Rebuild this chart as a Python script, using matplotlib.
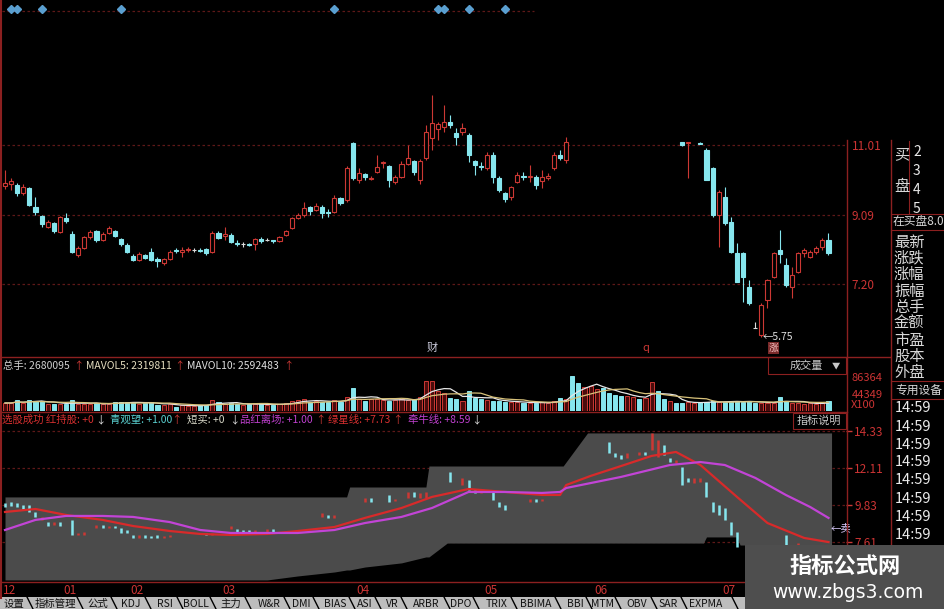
import numpy as np
import pandas as pd
import matplotlib
matplotlib.use('Agg')
import matplotlib.pyplot as plt
import matplotlib.transforms as mtransforms
from matplotlib.patches import Rectangle
from matplotlib.lines import Line2D

plt.rcParams['font.family'] = ['Noto Sans CJK SC', 'DejaVu Sans']

nan = np.nan

# ---- daily K-line (main panel), gap = candles not shown in the screenshot
opens = [9.89, 9.94, 9.91, 9.69, 9.83, 9.31, 9.06, 8.76, 8.87, 8.63,
         9.01, 8.57, 8.00, 8.19, 8.49, 8.65, 8.41, 8.60, 8.65, 8.43,
         8.27, 7.97, 7.86, 8.00, 8.08, 7.89, 7.78, 7.89, 8.13, 8.08,
         8.13, 8.13, 8.13, 8.16, 8.08, 8.60, 8.52, 8.54, 8.33, 8.30,
         8.30, 8.30, 8.43, 8.41, 8.40, 8.38, 8.54, 8.74, 9.01, 9.09,
         9.31, 9.23, 9.31, 9.17, 9.17, 9.56, 9.50, 11.06, 10.05, 10.22,
         10.08, 10.27, 10.52, 10.43, 10.00, 10.13, 10.49, 10.57, 10.05, 10.65,
         11.20, 11.45, 11.50, 11.64, 11.34, 11.37, 11.28, 10.57, 10.43, 10.38,
         10.74, 10.11, 9.69, 9.59, 10.00, 10.16, 10.13, 10.13, 10.02, 10.11,
         10.38, 10.74, 10.60, nan, nan, nan, nan, nan, nan, nan,
         nan, nan, nan, nan, nan, nan, nan, nan, nan, nan,
         nan, 11.09, 11.06, nan, 11.06, 10.87, 10.38, 9.09, 9.59, 8.90,
         8.05, 8.05, 7.12, 6.01, 5.80, 6.76, 7.39, 8.13, 7.72, 7.12,
         7.53, 8.05, 7.94, 8.08, 8.22, 8.41]
highs = [10.33, 10.11, 9.97, 9.94, 9.86, 9.59, 9.09, 8.96, 8.90, 9.06,
         9.15, 8.65, 8.24, 8.52, 8.68, 8.68, 8.63, 8.79, 8.68, 8.46,
         8.33, 8.02, 8.08, 8.02, 8.19, 7.94, 7.91, 8.13, 8.19, 8.22,
         8.22, 8.19, 8.19, 8.19, 8.65, 8.65, 8.76, 8.60, 8.41, 8.35,
         8.33, 8.46, 8.49, 8.46, 8.41, 8.52, 8.68, 9.04, 9.15, 9.45,
         9.34, 9.42, 9.37, 9.26, 9.64, 9.59, 10.43, 11.09, 10.38, 10.24,
         10.16, 10.74, 10.57, 10.46, 10.19, 10.57, 11.01, 10.60, 10.63, 11.56,
         12.38, 11.64, 12.11, 11.83, 11.48, 11.61, 11.34, 10.60, 10.54, 10.82,
         10.82, 10.16, 9.72, 9.89, 10.27, 10.27, 10.46, 10.19, 10.33, 10.24,
         10.82, 10.87, 11.23, nan, nan, nan, nan, nan, nan, nan,
         nan, nan, nan, nan, nan, nan, nan, nan, nan, nan,
         nan, 11.09, 11.09, nan, 11.09, 10.93, 10.41, 9.78, 9.86, 9.04,
         8.33, 8.08, 7.31, 6.16, 6.68, 7.34, 8.08, 8.68, 7.91, 7.67,
         8.08, 8.19, 8.13, 8.24, 8.46, 8.60]
lows = [9.80, 9.78, 9.61, 9.64, 9.34, 9.09, 8.76, 8.74, 8.60, 8.60,
        8.87, 8.05, 7.94, 8.16, 8.43, 8.35, 8.38, 8.57, 8.49, 8.24,
        8.05, 7.83, 7.83, 7.89, 7.83, 7.67, 7.72, 7.86, 8.05, 7.94,
        8.08, 8.08, 8.08, 8.00, 8.05, 8.43, 8.41, 8.33, 8.24, 8.22,
        8.24, 8.13, 8.33, 8.38, 8.33, 8.35, 8.52, 8.71, 8.98, 9.04,
        9.09, 9.20, 9.01, 9.04, 9.15, 9.37, 9.45, 10.05, 9.97, 10.05,
        10.05, 10.24, 10.38, 9.86, 9.94, 10.11, 10.46, 10.19, 9.94, 10.60,
        10.87, 11.15, 11.37, 11.48, 11.01, 11.28, 10.54, 10.19, 10.33, 10.33,
        9.97, 9.72, 9.45, 9.50, 9.97, 10.05, 10.00, 9.80, 9.83, 10.05,
        10.33, 10.60, 10.52, nan, nan, nan, nan, nan, nan, nan,
        nan, nan, nan, nan, nan, nan, nan, nan, nan, nan,
        nan, 10.98, 10.11, nan, 11.04, 10.05, 9.04, 8.22, 8.82, 8.05,
        7.26, 6.71, 6.63, 6.01, 5.75, 6.55, 7.37, 7.78, 7.12, 6.82,
        7.50, 7.94, 7.91, 8.02, 8.13, 8.00]
closes = [9.97, 10.02, 9.69, 9.86, 9.37, 9.17, 8.85, 8.90, 8.65, 9.04,
          8.93, 8.08, 8.19, 8.49, 8.63, 8.41, 8.57, 8.74, 8.52, 8.30,
          8.08, 7.86, 8.02, 7.91, 7.86, 7.83, 7.89, 8.08, 8.11, 8.13,
          8.16, 8.13, 8.11, 8.05, 8.60, 8.46, 8.57, 8.35, 8.30, 8.30,
          8.27, 8.43, 8.38, 8.41, 8.37, 8.49, 8.65, 9.01, 9.09, 9.28,
          9.20, 9.34, 9.15, 9.15, 9.56, 9.42, 10.38, 10.11, 10.24, 10.13,
          10.11, 10.41, 10.54, 10.05, 10.13, 10.49, 10.65, 10.27, 10.57, 11.37,
          11.61, 11.59, 11.64, 11.56, 11.23, 11.48, 10.74, 10.46, 10.41, 10.74,
          10.13, 9.78, 9.53, 9.86, 10.19, 10.13, 10.16, 9.91, 10.13, 10.16,
          10.74, 10.65, 11.09, nan, nan, nan, nan, nan, nan, nan,
          nan, nan, nan, nan, nan, nan, nan, nan, nan, nan,
          nan, 11.01, 11.09, nan, 11.04, 10.05, 9.09, 9.72, 8.87, 8.08,
          7.26, 7.39, 6.68, 6.01, 6.63, 7.31, 8.05, 8.02, 7.17, 7.45,
          8.05, 8.13, 8.08, 8.19, 8.41, 8.05]

# volume (x100 shares) and bar colour (r = up, c = down)
volumes = [20600, 20600, 28300, 20600, 28300, 25700, 25700, 18000, 18000, 18000,
           18000, 28300, 18000, 18000, 18000, 20600, 18000, 18000, 23100, 23100,
           23100, 23100, 18000, 20600, 23100, 15400, 15400, 18000, 10300, 15400,
           12900, 12900, 15400, 15400, 28300, 23100, 18000, 20600, 18000, 15400,
           18000, 18000, 18000, 15400, 15400, 18000, 20600, 25700, 28300, 30800,
           23100, 25700, 23100, 23100, 28300, 23100, 36000, 59100, 30800, 25700,
           30800, 30800, 28300, 25700, 28300, 30800, 28300, 30800, 36000, 77100,
           77100, 51400, 46300, 33400, 30800, 25700, 51400, 33400, 30800, 28300,
           25700, 25700, 23100, 23100, 23100, 20600, 20600, 20600, 23100, 20600,
           25700, 33400, 30800, 90000, 72000, 61700, 64300, 56500, 59100, 46300,
           41100, 38600, 38600, 36000, 30800, 33400, 74500, 51400, 30800, 25700,
           20600, 20600, 23100, 20600, 23100, 23100, 25700, 23100, 23100, 25700,
           25700, 23100, 25700, 20600, 20600, 20600, 20600, 36000, 25700, 20600,
           20600, 18000, 20600, 18000, 20600, 25700]
vol_colors = ("rrcrcccrcr" "ccrrrcrrcc" "ccrcccrrcr" "rrccrcrccr" "crcrcrrrrr"
              "crccrcrcrc" "rrrcrrrcrr" "rrrccrcccr" "cccrrcrcrr" "rcrccrrrcc"
              "ccrrcrrccr" "ccrrcccrcc" "ccccrrrccr" "rrrrrc")

signal_idx = [1, 2, 6, 19, 54, 71, 72, 76, 82]
price_ticks = [11.01, 9.09, 7.20]
vol_ticks = [44349, 86364]

# ---- lower indicator panel
low_ticks = [14.33, 12.11, 9.83, 7.61]
band_idx = [0, 43, 48, 54, 56, 56.5, 59, 65, 69, 69.5, 71, 72.5, 91.5, 95.5,
            114.5, 115, 120, 120.5, 135.5]
band_top = [10.34, 10.34, 10.34, 10.34, 10.34, 10.94, 10.94, 10.94, 10.94, 12.21,
            12.21, 12.21, 12.21, 14.21, 14.21, 14.21, 14.21, 14.21, 14.21]
band_bot = [5.32, 5.32, 5.56, 5.80, 5.92, 5.92, 6.10, 6.35, 6.71, 6.71,
            7.13, 7.55, 7.55, 7.55, 7.55, 7.92, 7.92, 7.43, 7.43]

red_idx = [0, 5, 10, 16, 21, 27, 32, 37, 43, 48, 54, 59, 65, 70, 76, 82, 88, 91,
           92, 96, 101, 106, 110, 114, 120, 125, 131, 135]
red_val = [9.43, 9.61, 9.25, 8.95, 8.58, 8.28, 8.10, 8.04, 8.10, 8.28, 8.52, 9.07,
           9.67, 10.34, 10.82, 10.64, 10.46, 10.46, 11.06, 11.61, 12.21, 12.82,
           13.06, 12.27, 10.34, 8.76, 7.86, 7.61]
mag_idx = [0, 5, 10, 16, 21, 27, 32, 37, 43, 48, 54, 59, 65, 70, 76, 82, 88, 91,
           92, 101, 109, 114, 118, 123, 128, 132, 135]
mag_val = [8.34, 8.95, 9.19, 9.19, 9.13, 8.82, 8.34, 8.16, 8.16, 8.16, 8.34, 8.76,
           9.13, 9.67, 10.64, 10.64, 10.58, 10.64, 10.88, 11.55, 12.27, 12.45,
           12.27, 11.49, 10.46, 9.73, 9.07]

lp_idx = [0, 1, 2, 3, 4, 5, 6, 7, 8, 9, 11, 12, 13, 15, 16, 17, 18, 19, 20, 21,
          22, 23, 24, 25, 26, 27, 33, 34, 37, 38, 39, 40, 41, 43, 44, 52, 53, 54,
          59, 60, 63, 64, 66, 67, 68, 69, 73, 75, 76, 77, 78, 80, 81, 82, 86, 87,
          88, 99, 100, 101, 102, 104, 105, 106, 107, 108, 109, 110, 111, 112, 113,
          114, 115, 116, 117, 118, 119, 120, 128, 130]
lp_hi = [9.97, 10.03, 9.97, 9.85, 9.85, 9.43, 9.13, 8.82, 8.82, 8.82, 8.95, 8.16,
         8.22, 8.64, 8.64, 8.58, 8.58, 8.46, 8.34, 8.04, 8.04, 8.04, 7.98, 8.04,
         7.98, 8.04, 8.16, 8.16, 8.58, 8.40, 8.34, 8.34, 8.34, 8.40, 8.40, 9.37,
         9.25, 9.25, 10.28, 10.28, 10.46, 10.22, 10.64, 10.64, 10.58, 10.64, 11.85,
         11.49, 11.37, 10.76, 10.76, 10.76, 10.03, 9.85, 10.22, 10.22, 10.22, 13.66,
         13.00, 12.88, 13.00, 13.06, 13.06, 14.21, 13.79, 13.48, 12.70, 12.58,
         12.15, 11.49, 11.49, 11.49, 11.24, 10.03, 9.85, 9.67, 8.82, 8.22, 8.04, 7.55]
lp_lo = [9.73, 9.79, 9.73, 9.61, 9.43, 9.13, 8.95, 8.58, 8.64, 8.58, 8.04, 8.04,
         8.04, 8.46, 8.46, 8.46, 8.46, 8.16, 8.16, 7.86, 7.86, 7.86, 7.86, 7.86,
         7.86, 7.92, 8.04, 8.04, 8.40, 8.22, 8.16, 8.16, 8.16, 8.16, 8.16, 9.13,
         9.07, 9.07, 10.03, 10.03, 10.03, 10.10, 10.28, 10.34, 10.28, 10.28, 11.24,
         11.06, 10.76, 10.58, 10.58, 10.16, 9.73, 9.55, 10.03, 10.03, 10.10, 13.00,
         12.76, 12.64, 12.70, 12.88, 12.88, 13.18, 12.76, 12.88, 12.45, 12.39,
         11.06, 11.24, 11.18, 11.24, 10.34, 9.43, 9.25, 8.95, 8.04, 7.31, 7.43, 7.31]
lp_colors = ("ccccccrcrc" "crr" "rcrccccrcccrr" "cr" "rcccr" "rc" "rcr" "rc" "cr"
             "rcrr" "c" "rccr" "ccc" "rcr" "cccr" "rcrrccrccrrcccccc" "cr")

month_idx = [0, 10, 21, 36, 58, 79, 97, 118]
month_labels = ['12', '01', '02', '03', '04', '05', '06', '07']

RED = '#cc3834'
CYAN = '#86e6ee'
GRID = '#5e1818'
BORDER = '#8c2020'
LABEL = '#cc3434'
W, H = 945, 609
XL = ((2 - 5) / 6.1, (846 - 5) / 6.1)

fig = plt.figure(figsize=(9.45, 6.09), dpi=100, facecolor='black')


def box(x0, y0, x1, y1):
    return [x0 / W, 1 - y1 / H, (x1 - x0) / W, (y1 - y0) / H]


def ftext(x, y, s, **kw):
    kw.setdefault('va', 'center')
    fig.text(x / W, 1 - y / H, s, **kw)


def fline(xs, ys, **kw):
    fig.add_artist(Line2D([x / W for x in xs], [1 - y / H for y in ys],
                          transform=fig.transFigure, **kw))


def frect(x0, y0, x1, y1, **kw):
    fig.add_artist(Rectangle((x0 / W, 1 - y1 / H), (x1 - x0) / W, (y1 - y0) / H,
                             transform=fig.transFigure, **kw))


def setup(a, ylim):
    a.set_facecolor('black')
    a.set_xlim(XL)
    a.set_ylim(ylim)
    for s in a.spines.values():
        s.set_visible(False)
    a.set_xticks([])
    a.yaxis.tick_right()


# ---------------- main K-line panel
ax = fig.add_axes(box(2, 0, 846, 356))
setup(ax, (5.23, 14.98))
ax.set_yticks(price_ticks)
ax.set_yticklabels([f'{v:.2f}' for v in price_ticks])
ax.tick_params(axis='y', length=0, pad=4, labelcolor=LABEL, labelsize=8.5)
for v in price_ticks:
    ax.axhline(v, color=GRID, lw=0.9, ls=(0, (2, 2)), zorder=0)
ax.axhline(14.68, xmax=0.63, color=GRID, lw=0.9, ls=(0, (2, 2)), zorder=0)

for i in range(len(opens)):
    o, h, l, c = opens[i], highs[i], lows[i], closes[i]
    if np.isnan(o):
        continue
    col = RED if c > o else (CYAN if c < o else '#dcdcdc')
    ax.vlines(i, l, h, color=col, lw=0.8, zorder=2)
    ax.add_patch(Rectangle((i - 0.33, min(o, c)), 0.66, abs(c - o),
                           facecolor='black' if c > o else col,
                           edgecolor=col, lw=0.8, zorder=3))

trans = mtransforms.blended_transform_factory(ax.transData, ax.transAxes)
ax.plot(signal_idx, [0.975] * len(signal_idx), 'D', color='#5a9fd0', ms=4.5,
        transform=trans, clip_on=False, zorder=4)
low_i = int(np.nanargmin(lows))
ax.annotate('←5.75', (low_i + 0.2, lows[low_i]), color='#e0e0e0', fontsize=7.5,
            va='center', ha='left')
ax.text(70, 0.022, '财', transform=trans, color='#c8c8d8', fontsize=8, ha='center', va='center')
ax.text(105, 0.022, 'q', transform=trans, color=RED, fontsize=8, ha='center', va='center')
ax.text(126, 0.022, '涨', transform=trans, color='#f4c0c0', fontsize=7, ha='center',
        va='center', bbox=dict(boxstyle='square,pad=0.1', fc='#7a2a2a', ec='none'))

# ---------------- volume panel
axv = fig.add_axes(box(2, 357, 846, 411))
setup(axv, (0, 54 * 2570))
idx = np.arange(len(volumes))
faces = ['#4a0c0c' if k == 'r' else CYAN for k in vol_colors]
edges = [RED if k == 'r' else CYAN for k in vol_colors]
axv.bar(idx, volumes, width=0.66, color=faces, edgecolor=edges, lw=0.7, zorder=2)
vs = pd.Series(volumes, dtype=float)
axv.plot(idx, vs.rolling(5, min_periods=1).mean(), color='#e6e6e6', lw=0.9, zorder=3)
axv.plot(idx, vs.rolling(10, min_periods=1).mean(), color='#d8c27a', lw=0.9, zorder=3)
axv.set_yticks(vol_ticks)
axv.set_yticklabels([str(v) for v in vol_ticks])
axv.tick_params(axis='y', length=0, pad=4, labelcolor=LABEL, labelsize=8)

# ---------------- lower indicator panel
axl = fig.add_axes(box(2, 425, 846, 581))
setup(axl, (5.255, 14.69))
for v in low_ticks:
    axl.axhline(v, color=GRID, lw=0.9, ls=(0, (2, 2)), zorder=0)
axl.fill_between(band_idx, band_bot, band_top, color='#4b4b4b', lw=0, zorder=1)
axl.vlines(lp_idx, lp_lo, lp_hi, colors=[RED if k == 'r' else CYAN for k in lp_colors],
           lw=1.8, zorder=3)
axl.plot(red_idx, red_val, color='#d82a2a', lw=1.6, zorder=4)
axl.plot(mag_idx, mag_val, color='#c244d6', lw=1.6, zorder=4)
axl.text(mag_idx[-1] + 0.3, 8.46, '←卖', color='#dcccff', fontsize=7.5, va='center')
axl.set_yticks(low_ticks)
axl.set_yticklabels([f'{v:.2f}' for v in low_ticks])
axl.tick_params(axis='y', length=4, width=1, color=RED, pad=2, labelcolor=LABEL, labelsize=8.5)
ltrans = mtransforms.blended_transform_factory(axl.transData, axl.transAxes)
for m, lab in zip(month_idx, month_labels):
    axl.text(m - 0.4, -0.058, lab, transform=ltrans, color=LABEL, fontsize=8.5,
             ha='left', va='center', clip_on=False)

# ---------------- frame lines
fline([0, 890], [356.5, 356.5], color=BORDER, lw=1)
fline([0, 847], [412, 412], color=BORDER, lw=1)
fline([0, 847], [582, 582], color=BORDER, lw=1)
fline([847, 847], [140, 598], color=BORDER, lw=1)
fline([891, 891], [140, 545], color=BORDER, lw=1)
fline([1.5, 1.5], [0, 598], color=BORDER, lw=1.5)
fline([909, 909], [141, 213], color=BORDER, lw=0.8)
fline([891, 945], [214, 214], color=BORDER, lw=0.8)
fline([891, 945], [230, 230], color=BORDER, lw=0.8)
frect(768, 357, 846, 374, fill=False, edgecolor=BORDER, lw=0.8)
frect(793, 413, 846, 429, fill=False, edgecolor=BORDER, lw=0.8)
frect(891, 381, 945, 399, fill=False, edgecolor=BORDER, lw=0.8)

# ---------------- texts
ftext(790, 366, '成交量', color='#c8c8c8', fontsize=8)
ftext(832, 366, '▼', color='#c8c8c8', fontsize=6)
ftext(797, 421, '指标说明', color='#c8c8c8', fontsize=8)
ftext(851, 405, 'X100', color=LABEL, fontsize=8)

for x, s, col in [(3, '总手: 2680095', '#d0d0d0'), (73, '↑', RED),
                  (86, 'MAVOL5: 2319811', '#e6dec0'), (174, '↑', RED),
                  (187, 'MAVOL10: 2592483', '#e0e0e0'), (283, '↑', RED)]:
    ftext(x, 366, s, color=col, fontsize=7.5)

for x, s, col in [(2, '选股成功 红持股: +0', '#d83030'), (95, '↓', '#e0e0e0'),
                  (110, '青观望: +1.00', '#5ad0d0'), (171, '↑', RED),
                  (187, '短买: +0', '#d8d8c8'), (229, '↓', '#e0e0e0'),
                  (240, '品红离场: +1.00', '#c040d0'), (315, '↑', RED),
                  (328, '绿星线: +7.73', '#d83030'), (392, '↑', RED),
                  (408, '牵牛线: +8.59', '#c040d0'), (471, '↓', '#e0e0e0')]:
    ftext(x, 420, s, color=col, fontsize=7.5)

# right-hand quote panel
ftext(894, 155, '买', color='#d8d8d8', fontsize=11)
ftext(894, 187, '盘', color='#d8d8d8', fontsize=11)
for y, s in zip([152, 171, 190, 209], ['2', '3', '4', '5']):
    ftext(913, y, s, color='#e8e8e8', fontsize=10)
ftext(893, 222, '在买盘8.0', color='#d8d8d8', fontsize=8.5)
for y, s in zip([242, 258, 274, 291, 307, 323, 340, 356, 372],
                ['最新', '涨跌', '涨幅', '振幅', '总手', '金额', '市盈', '股本', '外盘']):
    ftext(894, y, s, color='#d8d8d8', fontsize=11)
ftext(895, 390, '专用设备', color='#d8d8d8', fontsize=8.5)
for y in [408, 427, 445, 462, 480, 499, 517, 535]:
    ftext(895, y, '14:59', color='#ececec', fontsize=10.5)

# bottom tab bar
frect(0, 597, 745, 609, facecolor='#bdbdbd', edgecolor='none')
tabs = ['设置', '指标管理', '公式', 'KDJ', 'RSI', 'BOLL', '主力', 'W&R', 'DMI', 'BIAS',
        'ASI', 'VR', 'ARBR', 'DPO', 'TRIX', 'BBIMA', 'BBI', 'MTM', 'OBV', 'SAR', 'EXPMA']
tab_x = [14, 55, 98, 131, 165, 196, 231, 269, 301, 335, 365, 392, 426, 461, 497, 536,
         575, 603, 637, 668, 706]
for x, s in zip(tab_x, tabs):
    ftext(x, 599, s, color='#111111', fontsize=7.5, ha='center', va='top')
for x in [30, 80, 114, 148, 180, 213, 248, 287, 316, 352, 378, 404, 447, 476, 514,
          558, 589, 618, 654, 684, 735]:
    fline([x - 3, x + 3], [597, 609], color='black', lw=1)

# watermark
frect(745, 545, 945, 609, facecolor='#4e4e4e', edgecolor='none', zorder=10)
fig.text(845 / W, 1 - 566 / H, '指标公式网', color='white', fontsize=16, fontweight='bold',
         ha='center', va='center', zorder=11)
fig.text(848 / W, 1 - 593 / H, 'www.zbgs3.com', color='white', fontsize=13.5,
         ha='center', va='center', zorder=11, family='DejaVu Sans')

fig.savefig('out.png', dpi=100, facecolor='black')
